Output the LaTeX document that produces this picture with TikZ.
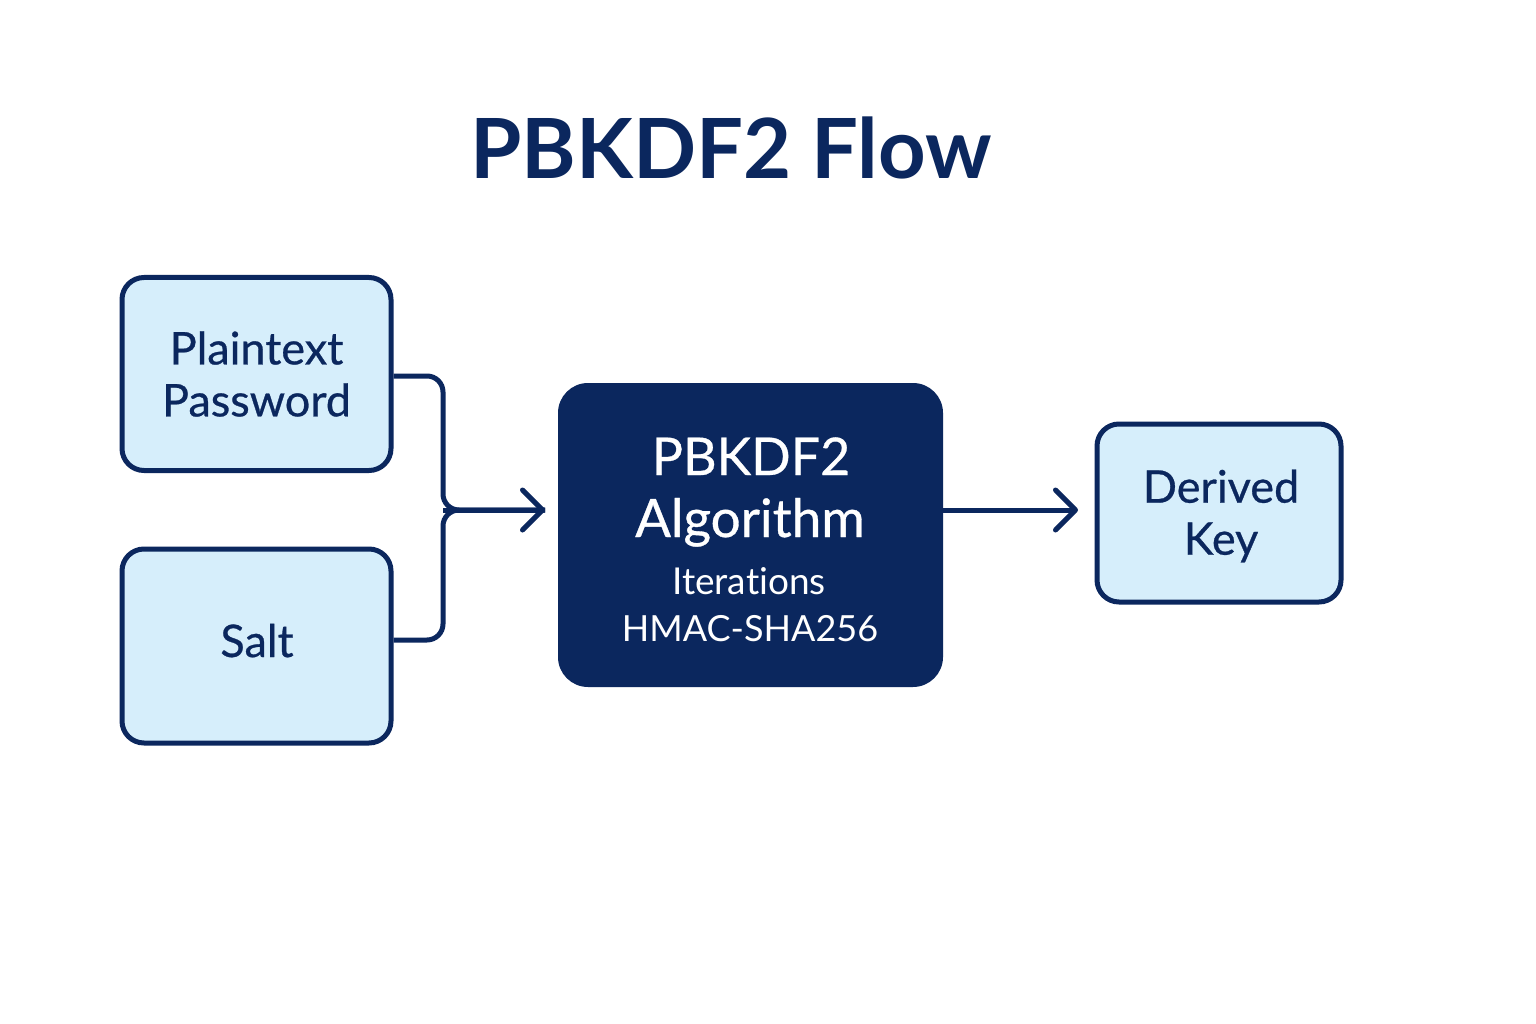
\documentclass[tikz,border=0pt]{standalone}
\usepackage{fontspec}
\setmainfont[Ligatures=NoCommon]{Lato}
\newfontfamily\medfont[FakeBold=0.6,Ligatures=NoCommon]{Lato}
\usetikzlibrary{arrows.meta}
\definecolor{navy}{HTML}{0B275E}
\definecolor{lightfill}{HTML}{D6EEFB}
\begin{document}
\begin{tikzpicture}[x=1pt,y=-1pt,
  lightbox/.style={draw=navy,line width=5pt,fill=lightfill,rounded corners=22pt,
    text=navy,font=\medfont\fontsize{45}{52}\selectfont,align=center,inner sep=0pt},
  darkbox/.style={fill=navy,rounded corners=30pt,inner sep=0pt},
  darktext/.style={text=white,anchor=base,inner sep=0pt},
  conn/.style={draw=navy,line width=5pt,rounded corners=16pt},
  tip/.style={-{Straight Barb[length=20pt,width=40pt,line width=5pt,round]}}]
\useasboundingbox (0,0) rectangle (1536,1024);
\fill[white] (0,0) rectangle (1536,1024);
\node[text=navy,font=\fontsize{83}{100}\selectfont\bfseries,anchor=base,inner sep=0pt] (title) at (731,179) {PBKDF2 Flow};
\node[lightbox,minimum width=269pt,minimum height=193pt] (pw) at (256.5,374) {Plaintext\\Password};
\node[lightbox,minimum width=269pt,minimum height=194pt] (salt) at (256.5,646) {};
\node[text=navy,font=\medfont\fontsize{45}{52}\selectfont,anchor=base,inner sep=0pt] (saltlabel) at (257,657) {Salt};
\node[darkbox,minimum width=385pt,minimum height=304pt] (alg) at (750.5,535) {};
\node[darktext,font=\medfont\fontsize{52}{60}\selectfont] (algname) at (751,475) {PBKDF2};
\node[darktext,font=\medfont\fontsize{53}{60}\selectfont] (algword) at (750,537) {Algorithm};
\node[darktext,font=\fontsize{37}{46}\selectfont] (iter) at (749,594) {Iterations};
\node[darktext,font=\fontsize{36}{46}\selectfont] (hmac) at (750,641) {HMAC-SHA256};
\node[lightbox,minimum width=244pt,minimum height=178pt] (key) at (1219,513) {};
\node[text=navy,font=\medfont\fontsize{45}{52}\selectfont,align=center,inner sep=0pt] (keylabel) at (1221,516) {Derived\\Key};
\coordinate (join) at (443,510);
\coordinate (pwturn) at (443,376);
\coordinate (saltturn) at (443,640);
\coordinate (algin) at (545,510);
\coordinate (keyin) at (1078,510);
\draw[conn] (pw.east |- pwturn) -- (pwturn) -- (join) -- (algin);
\draw[conn] (salt.east |- saltturn) -- (saltturn) -- (join) -- (algin);
\draw[conn,tip] (join) -- (algin);
\draw[conn,tip] (alg.east |- keyin) -- (keyin);
\end{tikzpicture}
\end{document}
